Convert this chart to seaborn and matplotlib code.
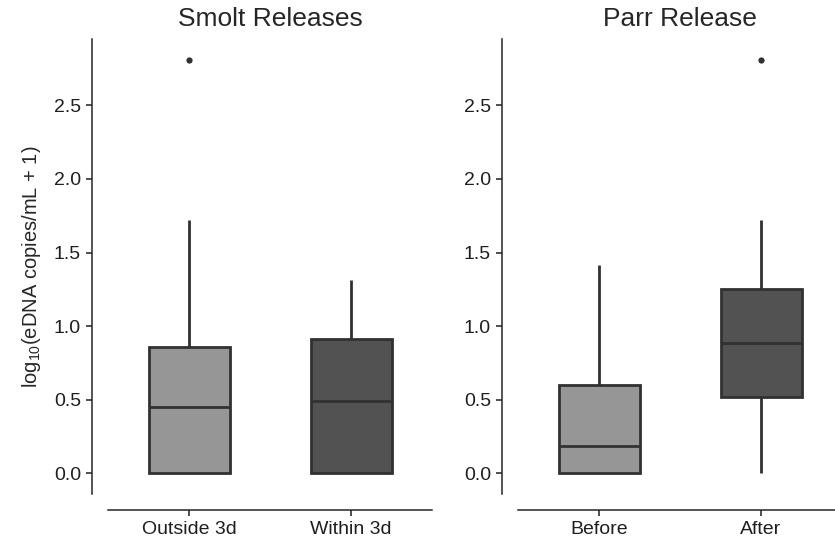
import pandas as pd
import seaborn as sns
import matplotlib
matplotlib.use("Agg")
import matplotlib.pyplot as plt

# values (log10 eDNA copies/mL + 1)
smolt_groups = ["Outside 3d", "Within 3d"]
outside_3d = [0.0, 0.0, 0.0, 0.20, 0.454, 0.70, 0.860, 1.718, 2.807]
within_3d = [0.0, 0.0, 0.0, 0.25, 0.491, 0.70, 0.912, 1.10, 1.311]

parr_groups = ["Before", "After"]
before = [0.0, 0.0, 0.0, 0.10, 0.184, 0.40, 0.600, 1.00, 1.418]
after = [0.0, 0.30, 0.520, 0.70, 0.886, 1.00, 1.250, 1.718, 2.807]

yticks = [0.0, 0.5, 1.0, 1.5, 2.0, 2.5]
greys = ["#969696", "#525252"]

smolt_df = pd.DataFrame({
    "group": [smolt_groups[0]] * len(outside_3d) + [smolt_groups[1]] * len(within_3d),
    "value": outside_3d + within_3d,
})
parr_df = pd.DataFrame({
    "group": [parr_groups[0]] * len(before) + [parr_groups[1]] * len(after),
    "value": before + after,
})

sns.set_theme(style="ticks")
plt.rcParams["font.family"] = ["Liberation Sans", "DejaVu Sans"]
plt.rcParams["mathtext.default"] = "regular"
plt.rcParams["axes.linewidth"] = 1.1
plt.rcParams["xtick.major.width"] = 1.1
plt.rcParams["ytick.major.width"] = 1.1
plt.rcParams["xtick.major.size"] = 4
plt.rcParams["ytick.major.size"] = 4

fig = plt.figure(figsize=(8.35, 5.46), dpi=100)
ax1 = fig.add_axes([108 / 835, 52 / 546, 324 / 835, 455 / 546])
ax2 = fig.add_axes([518 / 835, 52 / 546, 324 / 835, 455 / 546])

box_kw = dict(width=0.5, linewidth=2.0, linecolor="#313131", showcaps=False,
              flierprops=dict(marker="o", markersize=4.5, markerfacecolor="#313131",
                              markeredgecolor="none"))

for ax, df, order, title in [(ax1, smolt_df, smolt_groups, "Smolt Releases"),
                             (ax2, parr_df, parr_groups, "Parr Release")]:
    sns.boxplot(data=df, x="group", y="value", hue="group", order=order,
                hue_order=order, palette=greys, legend=False, ax=ax, **box_kw)
    ax.set_ylim(-0.14, 2.95)
    ax.set_yticks(yticks)
    ax.set_xlabel("")
    ax.set_ylabel("")
    ax.set_title(title, fontsize=19, pad=9)
    ax.tick_params(labelsize=14, colors="#1f1f1f", pad=4)
    sns.despine(ax=ax, offset=11.5)

ax1.set_ylabel("log$_{10}$(eDNA copies/mL + 1)", fontsize=14.5, labelpad=8)

fig.savefig("out.png", dpi=100)
